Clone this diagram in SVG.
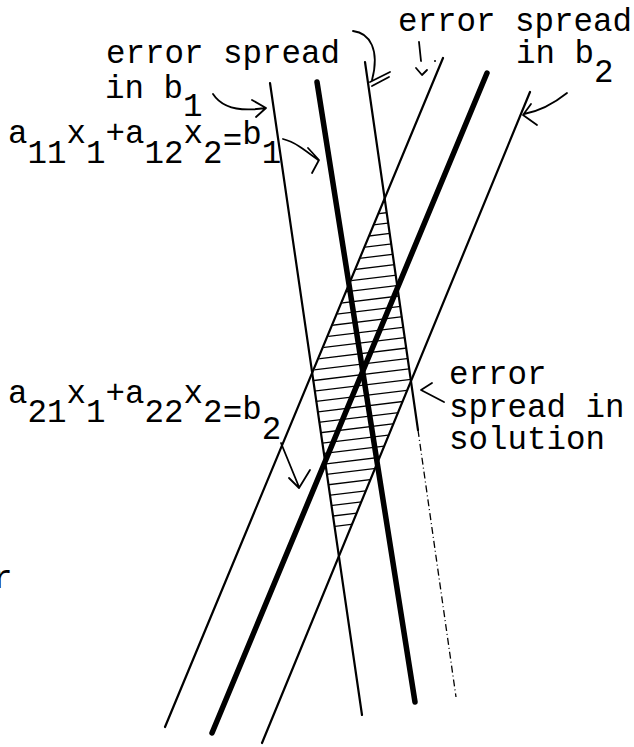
<svg xmlns="http://www.w3.org/2000/svg" width="634" height="747" viewBox="0 0 634 747">
<defs>
<style>
.t{font-family:"Liberation Mono","Courier New",monospace;font-size:32.5px;fill:#000}
.thin{stroke:#000;stroke-width:2.2;fill:none;stroke-linecap:round}
.thick{stroke:#000;stroke-width:5.5;fill:none;stroke-linecap:round}
.dash{stroke:#000;stroke-width:1.3;fill:none;stroke-dasharray:7 3 1 3}
.hatch{stroke:#000;stroke-width:1.3;fill:none}
.arr{stroke:#000;stroke-width:1.8;fill:none;stroke-linecap:round;stroke-linejoin:round}
</style>
<clipPath id="para"><polygon points="385,199 411,382 339,556 312,376"/></clipPath>
</defs>
<rect width="634" height="747" fill="#fff"/>

<g id="hatching" clip-path="url(#para)">
<path class="hatch" d="M305,212 L420,198 M305,222.6 L420,208.6 M305,233.2 L420,219.2 M305,243.8 L420,229.8 M305,254.4 L420,240.4 M305,265 L420,251 M305,275.6 L420,261.6 M305,286.2 L420,272.2 M305,296.8 L420,282.8 M305,307.4 L420,293.4 M305,318 L420,304 M305,328.6 L420,314.6 M305,339.2 L420,325.2 M305,349.8 L420,335.8 M305,360.4 L420,346.4 M305,371 L420,357 M305,381.6 L420,367.6 M305,392.2 L420,378.2 M305,402.8 L420,388.8 M305,413.4 L420,399.4 M305,424 L420,410 M305,434.6 L420,420.6 M305,445.2 L420,431.2 M305,455.8 L420,441.8 M305,466.4 L420,452.4 M305,477 L420,463 M305,487.6 L420,473.6 M305,498.2 L420,484.2 M305,508.8 L420,494.8 M305,519.4 L420,505.4 M305,530 L420,516"/>
</g>

<g id="lines-b1">
<path id="b1-low" class="thin" d="M270,83 L362,715"/>
<path id="b1-eq" class="thick" d="M317,82 L415,702"/>
<path id="b1-high" class="thin" d="M365,62 L418,430"/>
<path id="b1-high-dotted" class="dash" d="M418,430 L456,697"/>
</g>

<g id="lines-b2">
<path id="b2-low" class="thin" d="M443,58 L165,727"/>
<path id="b2-eq" class="thick" d="M487,73 L212,733"/>
<path id="b2-high" class="thin" d="M530,92 L262,743"/>
</g>

<g id="connectors">
<path class="arr" d="M213,94 C222,108 240,112 265,108 M252,100 L266,108 L256,117"/>
<path class="arr" d="M283,139 C295,142 305,150 318,160 M308,148 L319,160 L312,173"/>
<path class="arr" d="M353,31 C370,33 380,50 372,80 M370,82 L390,72 M372,86 L389,77"/>
<path class="arr" d="M419,42 L421,61 M416,68 L422,75 L427,70"/>
<circle cx="435" cy="61" r="1" fill="#000"/>
<path class="arr" d="M567,93 C552,105 540,111 524,114 M531,104 L523,115 L537,125"/>
<path class="arr" d="M432,383 L421,390 L444,402"/>
<path class="arr" d="M281,443 L299,487 M289,478 L299,488 L310,470"/>
</g>

<g id="label-spread-b1">
<text class="t" x="106" y="63">error spread</text>
<text class="t" x="105" y="98">in b<tspan dy="18">1</tspan></text>
</g>
<g id="label-spread-b2">
<text class="t" x="398" y="31">error spread</text>
<text class="t" x="516" y="63">in b<tspan dy="19">2</tspan></text>
</g>
<g id="label-eq1">
<text class="t" x="8" y="143">a<tspan dy="20">11</tspan><tspan dy="-20">x</tspan><tspan dy="20">1</tspan><tspan dy="-20">+a</tspan><tspan dy="20">12</tspan><tspan dy="-20">x</tspan><tspan dy="20">2</tspan><tspan dy="-12">=</tspan><tspan dy="-7">b</tspan><tspan dy="19">1</tspan></text>
</g>
<g id="label-eq2">
<text class="t" x="8" y="403">a<tspan dy="19">21</tspan><tspan dy="-19">x</tspan><tspan dy="19">1</tspan><tspan dy="-19">+a</tspan><tspan dy="19">22</tspan><tspan dy="-19">x</tspan><tspan dy="19">2</tspan><tspan dy="1">=</tspan><tspan dy="-4">b</tspan><tspan dy="20">2</tspan></text>
</g>
<g id="label-solution">
<text class="t" x="449" y="384">error</text>
<text class="t" x="449" y="417">spread in</text>
<text class="t" x="449" y="449">solution</text>
</g>
<g id="label-r">
<text class="t" x="-7" y="588">r</text>
</g>
</svg>
